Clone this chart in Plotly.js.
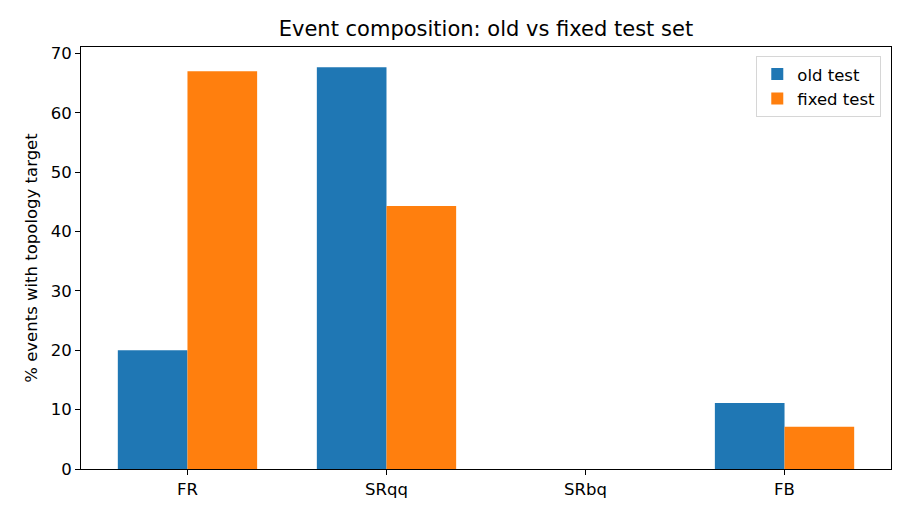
<!DOCTYPE html>
<html>
<head>
<meta charset="utf-8">
<script src="https://cdn.plot.ly/plotly-3.0.1.min.js"></script>
<style>
  html, body { margin: 0; padding: 0; background: #fff; }
  #chart { width: 910px; height: 520px; }
</style>
</head>
<body>
<div id="chart"></div>
<script>
// topology categories and per-set percentages
const categories = ['FR', 'SRqq', 'SRbq', 'FB']
const oldTest = [20.0, 67.7, 0, 11.1]
const fixedTest = [67.0, 44.3, 0, 7.1]

const font = 'DejaVu Sans, sans-serif'

const traces = [
  {
    x: categories,
    y: oldTest,
    name: 'old test',
    type: 'bar',
    marker: { color: '#1f77b4', line: { width: 0 } }
  },
  {
    x: categories,
    y: fixedTest,
    name: 'fixed test',
    type: 'bar',
    marker: { color: '#ff7f0e', line: { width: 0 } }
  }
]

const layout = {
  width: 910,
  height: 520,
  margin: { l: 81, r: 19, t: 47, b: 51 },
  paper_bgcolor: '#fff',
  plot_bgcolor: '#fff',
  font: { family: font, size: 16.5, color: '#000' },
  title: {
    text: 'Event composition: old vs fixed test set',
    font: { family: font, size: 21, color: '#000' },
    x: 0.534,
    xanchor: 'center',
    y: 0.944,
    yanchor: 'middle'
  },
  barmode: 'group',
  bargap: 0.3,
  bargroupgap: 0,
  xaxis: {
    range: [-0.535, 3.535],
    showgrid: false,
    zeroline: false,
    showline: true,
    linecolor: '#000',
    linewidth: 1,
    mirror: true,
    ticks: 'outside',
    ticklen: 5,
    tickcolor: '#000',
    tickfont: { family: font, size: 16.5, color: '#000' }
  },
  yaxis: {
    range: [0, 71.1],
    tickvals: [0, 10, 20, 30, 40, 50, 60, 70],
    showgrid: false,
    zeroline: false,
    showline: true,
    linecolor: '#000',
    linewidth: 1,
    mirror: true,
    ticks: 'outside',
    ticklen: 5,
    tickcolor: '#000',
    tickfont: { family: font, size: 16.5, color: '#000' },
    title: {
      text: '% events with topology target',
      font: { family: font, size: 16.5, color: '#000' },
      standoff: 8
    }
  },
  legend: {
    x: 0.988,
    xanchor: 'right',
    y: 0.979,
    yanchor: 'top',
    bgcolor: 'rgba(255,255,255,0.8)',
    bordercolor: '#d6d6d6',
    borderwidth: 1,
    font: { family: font, size: 16.5, color: '#000' }
  },
  showlegend: true
}

Plotly.newPlot('chart', traces, layout, { displayModeBar: false, staticPlot: true })
</script>
</body>
</html>
